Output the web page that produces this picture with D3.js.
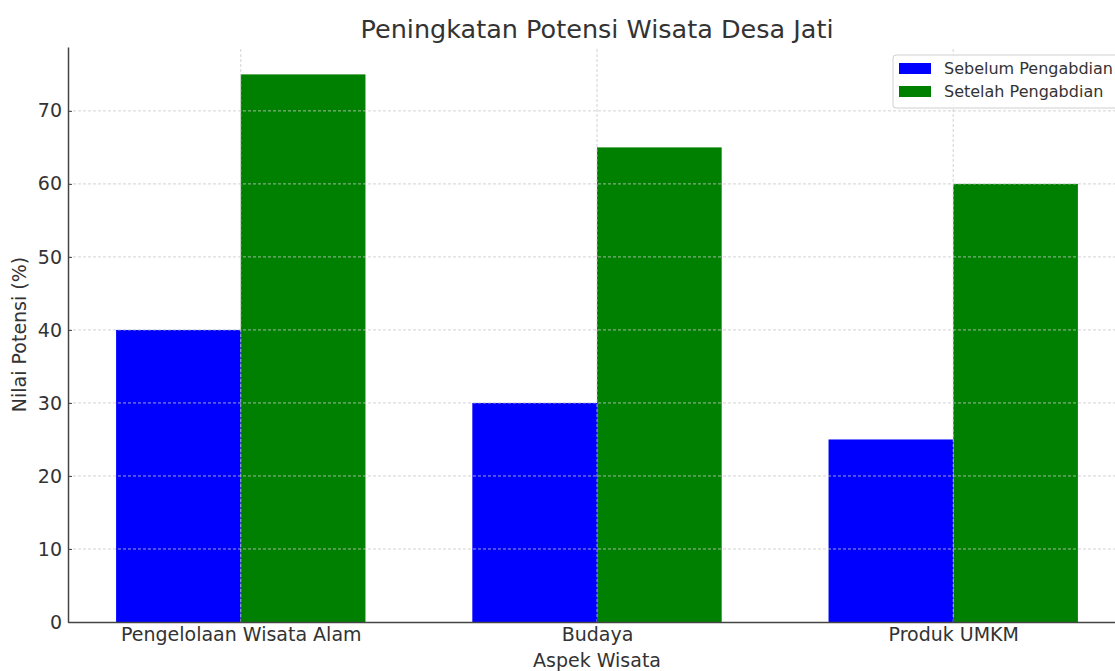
<!DOCTYPE html>
<html>
<head>
<meta charset="utf-8">
<script src="https://cdn.jsdelivr.net/npm/d3@7"></script>
<style>
  body { margin: 0; background: #fff; overflow: hidden; }
  text { font-family: "DejaVu Sans", sans-serif; fill: #333; }
</style>
</head>
<body>
<script>
// data
var categories = ["Pengelolaan Wisata Alam", "Budaya", "Produk UMKM"];
var sebelum = [40, 30, 25];
var setelah = [75, 65, 60];
var seriesNames = ["Sebelum Pengabdian", "Setelah Pengabdian"];
var yTicks = [0, 10, 20, 30, 40, 50, 60, 70];

var width = 1115, height = 671;
var margin = {top: 47, left: 68, bottom: 49}; // axes box, right side runs past the window
var plotRight = 1126;
var barW = 0.35;

var svg = d3.select("body").append("svg")
    .attr("width", width)
    .attr("height", height);

var x = d3.scaleLinear()
    .domain([-0.485, categories.length - 1 + 0.485])
    .range([margin.left, plotRight]);

var y = d3.scaleLinear()
    .domain([0, 78.75])
    .range([height - margin.bottom, margin.top]);

var colors = ["#0000ff", "#008000"];

// bars
var groups = [sebelum, setelah];
groups.forEach(function(vals, s) {
  svg.append("g").selectAll("rect")
    .data(vals)
    .enter().append("rect")
    .attr("x", function(d, i) { return x(i - barW + s * barW); })
    .attr("width", x(barW) - x(0))
    .attr("y", function(d) { return y(d); })
    .attr("height", function(d) { return y(0) - y(d); })
    .attr("fill", colors[s]);
});

// grid (drawn over the bars like the original)
svg.append("g").selectAll("line")
  .data(yTicks.slice(1))
  .enter().append("line")
  .attr("x1", margin.left).attr("x2", plotRight)
  .attr("y1", function(d) { return y(d); })
  .attr("y2", function(d) { return y(d); })
  .attr("stroke", "#c8c8c8")
  .attr("stroke-width", 0.8)
  .attr("stroke-dasharray", "3,2");

svg.append("g").selectAll("line")
  .data(categories)
  .enter().append("line")
  .attr("x1", function(d, i) { return x(i); })
  .attr("x2", function(d, i) { return x(i); })
  .attr("y1", y(0)).attr("y2", margin.top)
  .attr("stroke", "#c8c8c8")
  .attr("stroke-width", 0.8)
  .attr("stroke-dasharray", "3,2");

// y axis
var yAxis = svg.append("g")
    .attr("transform", "translate(" + margin.left + ",0)")
    .call(d3.axisLeft(y).tickValues(yTicks).tickSizeInner(-4).tickSizeOuter(0).tickPadding(6));
yAxis.select(".domain").attr("stroke", "#444").attr("stroke-width", 1.5);
yAxis.selectAll(".tick line").attr("stroke", "#444");
yAxis.selectAll(".tick text")
    .style("font-size", "19px")
    .style("font-family", "DejaVu Sans")
    .attr("fill", "#333");

// x axis
var xAxis = svg.append("g")
    .attr("transform", "translate(0," + y(0) + ")")
    .call(d3.axisBottom(x).tickValues([0, 1, 2])
      .tickFormat(function(d) { return categories[d]; })
      .tickSizeInner(-4).tickSizeOuter(0).tickPadding(6));
xAxis.select(".domain").attr("stroke", "#444").attr("stroke-width", 1.5);
xAxis.selectAll(".tick line").attr("stroke", "#444");
xAxis.selectAll(".tick text")
    .style("font-size", "19px")
    .style("font-family", "DejaVu Sans")
    .attr("fill", "#333");

// labels
svg.append("text")
  .attr("x", (margin.left + plotRight) / 2)
  .attr("y", 38)
  .attr("text-anchor", "middle")
  .style("font-size", "25.5px")
  .text("Peningkatan Potensi Wisata Desa Jati");

svg.append("text")
  .attr("x", (margin.left + plotRight) / 2)
  .attr("y", 667)
  .attr("text-anchor", "middle")
  .style("font-size", "19px")
  .text("Aspek Wisata");

svg.append("text")
  .attr("transform", "translate(26," + (y(0) + margin.top) / 2 + ") rotate(-90)")
  .attr("text-anchor", "middle")
  .style("font-size", "19px")
  .text("Nilai Potensi (%)");

// legend
var legend = svg.append("g").attr("transform", "translate(893,55)");
legend.append("rect")
  .attr("width", 240).attr("height", 53)
  .attr("rx", 3)
  .attr("fill", "#fff").attr("fill-opacity", 0.85)
  .attr("stroke", "#d0d0d0");

seriesNames.forEach(function(name, i) {
  legend.append("rect")
    .attr("x", 6).attr("y", 8 + i * 23)
    .attr("width", 32).attr("height", 11)
    .attr("fill", colors[i]);
  legend.append("text")
    .attr("x", 51).attr("y", 19 + i * 23)
    .style("font-size", "16px")
    .text(name);
});
</script>
</body>
</html>
